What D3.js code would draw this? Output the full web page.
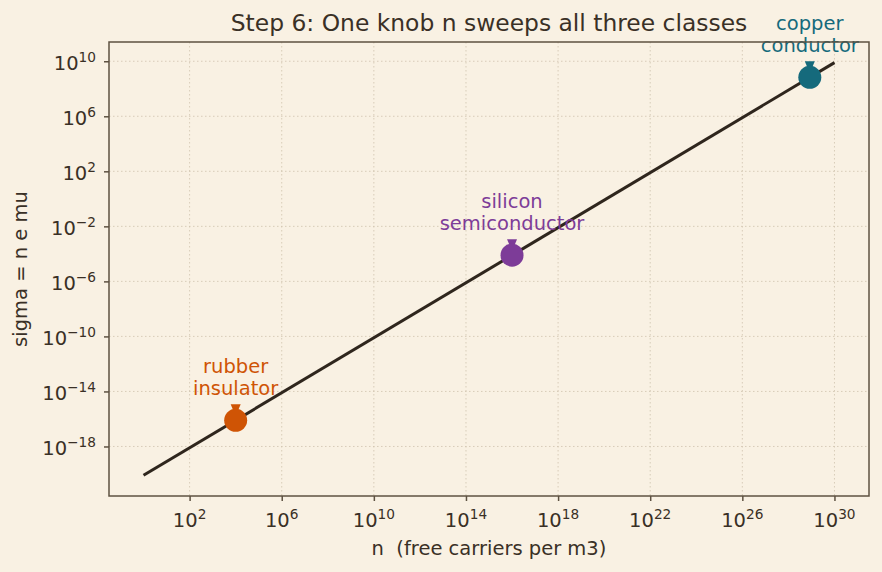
<!DOCTYPE html>
<html>
<head>
<meta charset="utf-8">
<script src="https://cdn.jsdelivr.net/npm/d3@7"></script>
<style>
  body { margin: 0; background: #f9f1e3; }
  svg { display: block; font-family: "DejaVu Sans", sans-serif; }
</style>
</head>
<body>
<div id="container"></div>
<script>
/* DATA */
const lineN = [1e0, 1e30];
const lineSigma = [8e-21, 8e9];

const materials = ["rubber", "silicon", "copper"];
const classes = ["insulator", "semiconductor", "conductor"];
const pointN = [1e4, 1e16, 8.5e28];
const pointSigma = [8e-17, 8e-5, 6.8e8];
const pointColors = ["#cf5405", "#7d3c98", "#156a7c"];

const xTickExp = [2, 6, 10, 14, 18, 22, 26, 30];
const yTickExp = [10, 6, 2, -2, -6, -10, -14, -18];

/* LAYOUT */
const width = 882, height = 572;
const margin = { top: 42, right: 13, bottom: 76, left: 109 };
const ink = "#3a3026";
const frame = "#5e5242";
const fs = 19.5;

const svg = d3.select('#container')
  .append('svg')
  .attr('width', width)
  .attr('height', height)
  .style('background-color', '#f9f1e3');

const xScale = d3.scaleLog()
  .domain([Math.pow(10, -1.5), Math.pow(10, 31.5)])
  .range([margin.left, width - margin.right]);

const yScale = d3.scaleLog()
  .domain([Math.pow(10, -21.6), Math.pow(10, 11.4)])
  .range([height - margin.bottom, margin.top]);

// grid
const grid = svg.append('g')
  .attr('stroke', '#cfc3ad')
  .attr('stroke-width', 0.8)
  .attr('stroke-dasharray', '1.5,2.5');

grid.selectAll('line.gx')
  .data(xTickExp)
  .join('line')
  .attr('class', 'gx')
  .attr('x1', d => xScale(Math.pow(10, d)))
  .attr('x2', d => xScale(Math.pow(10, d)))
  .attr('y1', margin.top)
  .attr('y2', height - margin.bottom);

grid.selectAll('line.gy')
  .data(yTickExp)
  .join('line')
  .attr('class', 'gy')
  .attr('y1', d => yScale(Math.pow(10, d)))
  .attr('y2', d => yScale(Math.pow(10, d)))
  .attr('x1', margin.left)
  .attr('x2', width - margin.right);

// axes
const xAxis = d3.axisBottom(xScale)
  .tickValues(xTickExp.map(e => Math.pow(10, e)))
  .tickSize(5)
  .tickFormat('');

const yAxis = d3.axisLeft(yScale)
  .tickValues(yTickExp.map(e => Math.pow(10, e)))
  .tickSize(5)
  .tickFormat('');

const xaxisGroup = svg.append('g')
  .attr('transform', `translate(0, ${height - margin.bottom})`)
  .call(xAxis);
xaxisGroup.select('.domain').remove();
xaxisGroup.selectAll('line').attr('stroke', frame).attr('stroke-width', 1.5);

const yaxisGroup = svg.append('g')
  .attr('transform', `translate(${margin.left}, 0)`)
  .call(yAxis);
yaxisGroup.select('.domain').remove();
yaxisGroup.selectAll('line').attr('stroke', frame).attr('stroke-width', 1.5);

// tick labels with superscripts
svg.selectAll('text.xtick')
  .data(xTickExp)
  .join('text')
  .attr('class', 'xtick')
  .attr('x', d => xScale(Math.pow(10, d)))
  .attr('y', height - margin.bottom + 31)
  .attr('text-anchor', 'middle')
  .attr('fill', ink)
  .attr('font-size', fs)
  .each(function (d) {
    const t = d3.select(this);
    t.append('tspan').text('10');
    t.append('tspan').attr('dy', -8).attr('font-size', 13.7).text(d);
  });

svg.selectAll('text.ytick')
  .data(yTickExp)
  .join('text')
  .attr('class', 'ytick')
  .attr('x', margin.left - 13)
  .attr('y', d => yScale(Math.pow(10, d)) + 9)
  .attr('text-anchor', 'end')
  .attr('fill', ink)
  .attr('font-size', fs)
  .each(function (d) {
    const t = d3.select(this);
    t.append('tspan').text('10');
    t.append('tspan').attr('dy', -8).attr('font-size', 13.7).text(d < 0 ? '\u2212' + (-d) : d);
  });

// the line sigma = n e mu
const line = d3.line()
  .x(d => xScale(d[0]))
  .y(d => yScale(d[1]));

svg.append('path')
  .datum(d3.zip(lineN, lineSigma))
  .attr('d', line)
  .attr('fill', 'none')
  .attr('stroke', '#2f261d')
  .attr('stroke-width', 3);

// annotation arrowheads + points
const pts = materials.map((m, i) => ({
  name: m, cls: classes[i], n: pointN[i], s: pointSigma[i], color: pointColors[i]
}));

svg.selectAll('path.head')
  .data(pts)
  .join('path')
  .attr('class', 'head')
  .attr('d', d => {
    const cx = xScale(d.n), cy = yScale(d.s);
    return `M${cx - 5},${cy - 16} L${cx + 5},${cy - 16} L${cx},${cy - 4} Z`;
  })
  .attr('fill', d => d.color);

svg.selectAll('circle.pt')
  .data(pts)
  .join('circle')
  .attr('class', 'pt')
  .attr('cx', d => xScale(d.n))
  .attr('cy', d => yScale(d.s))
  .attr('r', 11.5)
  .attr('fill', d => d.color);

// labels
svg.selectAll('text.lab1')
  .data(pts)
  .join('text')
  .attr('class', 'lab1')
  .attr('x', d => xScale(d.n))
  .attr('y', d => yScale(d.s) - 47)
  .attr('text-anchor', 'middle')
  .attr('font-size', fs)
  .attr('fill', d => d.color)
  .text(d => d.name);

svg.selectAll('text.lab2')
  .data(pts)
  .join('text')
  .attr('class', 'lab2')
  .attr('x', d => xScale(d.n))
  .attr('y', d => yScale(d.s) - 25)
  .attr('text-anchor', 'middle')
  .attr('font-size', fs)
  .attr('fill', d => d.color)
  .text(d => d.cls);

// frame
svg.append('rect')
  .attr('x', margin.left)
  .attr('y', margin.top)
  .attr('width', width - margin.left - margin.right)
  .attr('height', height - margin.top - margin.bottom)
  .attr('fill', 'none')
  .attr('stroke', frame)
  .attr('stroke-width', 1.5);

// axis labels
svg.append('text')
  .attr('x', (margin.left + width - margin.right) / 2)
  .attr('y', 555)
  .attr('text-anchor', 'middle')
  .attr('font-size', fs)
  .attr('fill', ink)
  .attr('xml:space', 'preserve')
  .style('white-space', 'pre')
  .text('n  (free carriers per m3)');

svg.append('text')
  .attr('transform', 'rotate(270)')
  .attr('x', -(margin.top + height - margin.bottom) / 2)
  .attr('y', 27)
  .attr('text-anchor', 'middle')
  .attr('font-size', fs)
  .attr('fill', ink)
  .text('sigma = n e mu');

// title
svg.append('text')
  .attr('x', (margin.left + width - margin.right) / 2)
  .attr('y', 31)
  .attr('text-anchor', 'middle')
  .attr('font-size', 23.4)
  .attr('fill', ink)
  .text('Step 6: One knob n sweeps all three classes');
</script>
</body>
</html>
